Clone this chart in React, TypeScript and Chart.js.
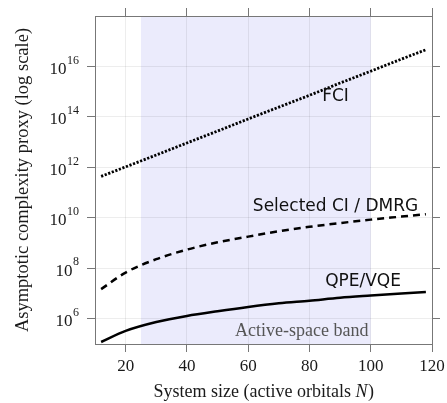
import { useEffect, useRef } from "react";
import { Chart, registerables } from "chart.js";

Chart.register(...registerables);

const orbitals = [12, 20, 30, 40, 50, 60, 70, 80, 90, 100, 110, 118];
const fciValues = [4.4e11, 1.05e12, 3.1e12, 9.3e12, 2.75e13, 8.3e13, 2.45e14, 7.2e14, 2.2e15, 6.5e15, 1.95e16, 4.6e16];
const selectedCiValues = [1.5e7, 6.8e7, 2.3e8, 5.5e8, 1.07e9, 1.8e9, 2.95e9, 4.4e9, 6.2e9, 8.5e9, 1.12e10, 1.4e10];
const qpeValues = [1.2e5, 3.3e5, 7.4e5, 1.3e6, 2.0e6, 2.95e6, 4.1e6, 5.2e6, 6.8e6, 8.3e6, 1.0e7, 1.15e7];
const xTickValues = [20, 40, 60, 80, 100, 120];
const yTickExponents = [6, 8, 10, 12, 14, 16];
const activeBand = [25, 100];

const SERIF = "'Liberation Serif', 'DejaVu Serif', serif";
const SANS = "'DejaVu Sans', 'Noto Sans', sans-serif";

const overlayPlugin = {
  id: "overlay",
  beforeDraw(chart: any) {
    const { ctx, chartArea, scales } = chart;
    const x0 = scales.x.getPixelForValue(activeBand[0]);
    const x1 = scales.x.getPixelForValue(activeBand[1]);
    ctx.save();
    ctx.fillStyle = "#ebebfc";
    ctx.fillRect(x0, chartArea.top, x1 - x0, chartArea.bottom - chartArea.top);
    ctx.restore();
  },
  afterDraw(chart: any) {
    const { ctx, chartArea, scales } = chart;
    const xs = scales.x;
    const ys = scales.y;
    ctx.save();
    ctx.fillStyle = "#1a1a1a";
    // x tick labels
    ctx.font = `17px ${SERIF}`;
    ctx.textAlign = "center";
    ctx.textBaseline = "middle";
    xTickValues.forEach((v) => {
      ctx.fillText(String(v), xs.getPixelForValue(v), chartArea.bottom + 23);
    });
    // y tick labels with superscripts
    yTickExponents.forEach((e) => {
      const py = ys.getPixelForValue(Math.pow(10, e));
      const base = "10";
      const sup = String(e);
      ctx.font = `12px ${SERIF}`;
      const sw = ctx.measureText(sup).width;
      const right = chartArea.left - 16;
      ctx.textAlign = "right";
      ctx.textBaseline = "middle";
      ctx.fillText(sup, right, py - 6);
      ctx.font = `17px ${SERIF}`;
      ctx.fillText(base, right - sw - 0.5, py + 3);
    });
    // x title with italic N
    const fs = 18;
    const t1 = "System size (active orbitals ";
    const t2 = "N";
    const t3 = ")";
    ctx.font = `${fs}px ${SERIF}`;
    const w1 = ctx.measureText(t1).width;
    const w3 = ctx.measureText(t3).width;
    ctx.font = `italic ${fs}px ${SERIF}`;
    const w2 = ctx.measureText(t2).width;
    const total = w1 + w2 + w3;
    const cx = (chartArea.left + chartArea.right) / 2;
    let sx = cx - total / 2;
    const ty = chartArea.bottom + 48;
    ctx.textAlign = "left";
    ctx.textBaseline = "middle";
    ctx.font = `${fs}px ${SERIF}`;
    ctx.fillText(t1, sx, ty);
    sx += w1;
    ctx.font = `italic ${fs}px ${SERIF}`;
    ctx.fillText(t2, sx, ty);
    sx += w2 + 0.5;
    ctx.font = `${fs}px ${SERIF}`;
    ctx.fillText(t3, sx, ty);
    // y title
    ctx.save();
    ctx.translate(23, (chartArea.top + chartArea.bottom) / 2);
    ctx.rotate(-Math.PI / 2);
    ctx.textAlign = "center";
    ctx.textBaseline = "middle";
    ctx.font = `18.5px ${SERIF}`;
    ctx.fillText("Asymptotic complexity proxy (log scale)", 0, 0);
    ctx.restore();
    // curve labels
    ctx.font = `17px ${SANS}`;
    ctx.textAlign = "center";
    ctx.textBaseline = "middle";
    ctx.fillStyle = "#111";
    ctx.fillText("FCI", xs.getPixelForValue(88.5), ys.getPixelForValue(6.5e14));
    ctx.fillText("Selected CI / DMRG", xs.getPixelForValue(88.5), ys.getPixelForValue(2.9e10));
    ctx.fillText("QPE/VQE", xs.getPixelForValue(97.5), ys.getPixelForValue(2.9e7));
    ctx.font = `18px ${SERIF}`;
    ctx.fillStyle = "#555";
    ctx.fillText("Active-space band", xs.getPixelForValue(77.5), ys.getPixelForValue(3.3e5));
    ctx.restore();
  },
};

export default function App() {
  const canvasRef = useRef<HTMLCanvasElement>(null);
  useEffect(() => {
    if (!canvasRef.current) return;
    const gridColor = "rgba(0,0,0,0.07)";
    const borderColor = "#777";
    const setX = (scale: any) => {
      scale.ticks = xTickValues.map((v) => ({ value: v }));
    };
    const setY = (scale: any) => {
      scale.ticks = yTickExponents.map((e) => ({ value: Math.pow(10, e) }));
    };
    const chart = new Chart(canvasRef.current, {
      type: "line",
      data: {
        labels: orbitals,
        datasets: [
          {
            label: "FCI",
            data: orbitals.map((n, i) => ({ x: n, y: fciValues[i] })),
            borderColor: "#000",
            borderWidth: 2.8,
            borderDash: [2.2, 1.6],
            pointRadius: 0,
            cubicInterpolationMode: "monotone",
          },
          {
            label: "Selected CI / DMRG",
            data: orbitals.map((n, i) => ({ x: n, y: selectedCiValues[i] })),
            borderColor: "#000",
            borderWidth: 2.5,
            borderDash: [7, 5],
            pointRadius: 0,
            cubicInterpolationMode: "monotone",
          },
          {
            label: "QPE/VQE",
            data: orbitals.map((n, i) => ({ x: n, y: qpeValues[i] })),
            borderColor: "#000",
            borderWidth: 2.5,
            pointRadius: 0,
            cubicInterpolationMode: "monotone",
          },
        ],
      },
      options: {
        animation: false,
        responsive: false,
        events: [],
        layout: { padding: 0 },
        plugins: { legend: { display: false }, tooltip: { enabled: false } },
        scales: {
          x: {
            type: "linear",
            position: "bottom",
            min: 10,
            max: 120,
            afterBuildTicks: setX,
            afterFit: (s: any) => { s.height = 59; },
            ticks: { display: false },
            grid: { color: gridColor, tickColor: borderColor, tickLength: 8 },
            border: { display: true, color: borderColor, width: 1 },
          },
          x2: {
            type: "linear",
            position: "top",
            min: 10,
            max: 120,
            afterBuildTicks: setX,
            afterFit: (s: any) => { s.height = 16; },
            ticks: { display: false },
            grid: { drawOnChartArea: false, tickColor: borderColor, tickLength: 8 },
            border: { display: true, color: borderColor, width: 1 },
          },
          y: {
            type: "logarithmic",
            position: "left",
            min: 1e5,
            max: 1e18,
            afterBuildTicks: setY,
            afterFit: (s: any) => { s.width = 95; },
            ticks: { display: false },
            grid: { color: gridColor, tickColor: borderColor, tickLength: 8 },
            border: { display: true, color: borderColor, width: 1 },
          },
          y2: {
            type: "logarithmic",
            position: "right",
            min: 1e5,
            max: 1e18,
            afterBuildTicks: setY,
            afterFit: (s: any) => { s.width = 15; },
            ticks: { display: false },
            grid: { drawOnChartArea: false, tickColor: borderColor, tickLength: 8 },
            border: { display: true, color: borderColor, width: 1 },
          },
        },
      },
      plugins: [overlayPlugin],
    } as any);
    return () => chart.destroy();
  }, []);
  return (
    <div style={{ position: "absolute", left: 0, top: 0, width: 447, height: 403, background: "#fff" }}>
      <canvas ref={canvasRef} width={447} height={403} />
    </div>
  );
}
